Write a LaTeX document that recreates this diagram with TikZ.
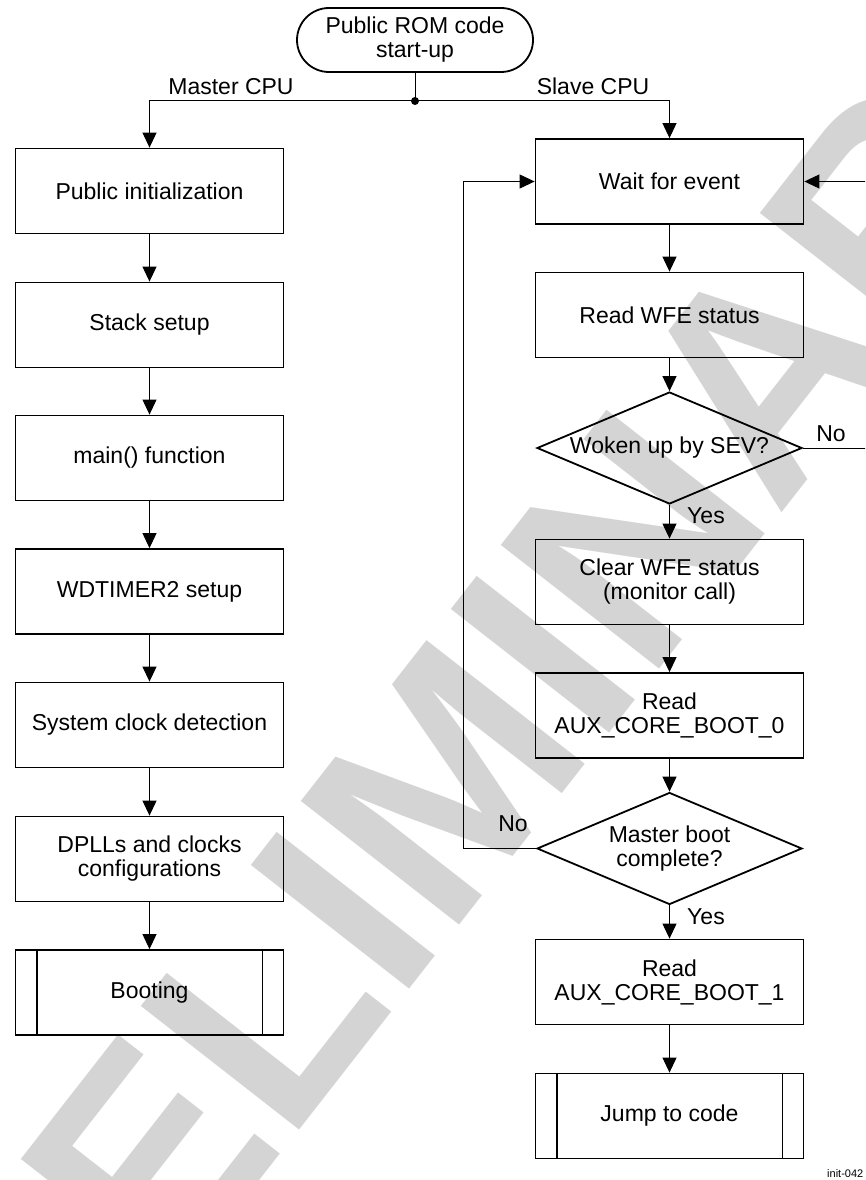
\documentclass[tikz,border=0pt]{standalone}
\usepackage{fontspec}
\setmainfont{Liberation Sans}
\usetikzlibrary{arrows.meta,shapes.geometric,shapes.misc}
\definecolor{wmark}{gray}{0.83}
\begin{document}
\begin{tikzpicture}[x=1pt,y=-1pt,
  txt/.style={font=\fontsize{23}{24}\selectfont, inner sep=0pt, align=center},
  proc/.style={txt, draw, line width=1.8pt, minimum width=268pt, minimum height=85pt},
  sub/.style={proc},
  term/.style={txt, draw, line width=1.8pt, rounded rectangle, minimum width=236pt, minimum height=64pt},
  dia/.style={draw, line width=1.8pt, diamond, inner sep=0pt, minimum width=265pt, minimum height=112pt},
  conn/.style={line width=1pt},
  arr/.style={conn, -{Triangle[width=14pt,length=15pt]}},
  lbl/.style={txt}
]
\path[use as bounding box, clip] (0,0) rectangle (865,1180);

% watermark
\node[rotate=52, inner sep=0pt, text=wmark, font=\fontsize{292}{292}\selectfont\bfseries] (wm) at (455,768) {PRELIMINARY};

% start
\node[term] (start) at (415,40) {Public ROM code\\start-up};
\node[circle, fill, inner sep=0pt, minimum size=8pt] (split) at (415,101) {};

% master column
\node[proc] (m1) at (149.5,191) {Public initialization};
\node[proc] (m2) at (149.5,325) {Stack setup};
\node[proc] (m3) at (149.5,458) {main() function};
\node[proc] (m4) at (149.5,591.5) {WDTIMER2 setup};
\node[proc] (m5) at (149.5,725) {System clock detection};
\node[proc] (m6) at (149.5,859) {DPLLs and clocks\\configurations};
\node[sub] (m7) at (149.5,992.5) {Booting};
\draw[line width=1.8pt] ([xshift=22pt]m7.north west) -- ([xshift=22pt]m7.south west);
\draw[line width=1.8pt] ([xshift=-22pt]m7.north east) -- ([xshift=-22pt]m7.south east);

% slave column
\node[proc] (s1) at (669.5,181.5) {Wait for event};
\node[proc] (s2) at (669.5,315) {Read WFE status};
\node[dia] (d1) at (669.5,448) {};
\node[txt] (d1t) at (d1) {Woken up by SEV?};
\node[proc] (s3) at (669.5,582) {Clear WFE status\\(monitor call)};
\node[proc] (s4) at (669.5,715.5) {Read\\AUX\_CORE\_BOOT\_0};
\node[dia] (d2) at (669.5,848.5) {};
\node[txt] (d2t) at (d2) {Master boot\\complete?};
\node[proc] (s5) at (669.5,982) {Read\\AUX\_CORE\_BOOT\_1};
\node[sub] (s6) at (669.5,1116) {Jump to code};
\draw[line width=1.8pt] ([xshift=22pt]s6.north west) -- ([xshift=22pt]s6.south west);
\draw[line width=1.8pt] ([xshift=-22pt]s6.north east) -- ([xshift=-22pt]s6.south east);

% connectors
\draw[conn] (start.south) -- (split.center);
\draw[arr] (split.center) -| (m1.north);
\draw[arr] (split.center) -| (s1.north);
\draw[arr] (m1) -- (m2);
\draw[arr] (m2) -- (m3);
\draw[arr] (m3) -- (m4);
\draw[arr] (m4) -- (m5);
\draw[arr] (m5) -- (m6);
\draw[arr] (m6) -- (m7);
\draw[arr] (s1) -- (s2);
\draw[arr] (s2) -- (d1.north);
\draw[arr] (d1.south) -- (s3);
\draw[arr] (s3) -- (s4);
\draw[arr] (s4) -- (d2.north);
\draw[arr] (d2.south) -- (s5);
\draw[arr] (s5) -- (s6);
\coordinate (lx) at (463,0);
\coordinate (rx) at (885,0);
\draw[arr] (d2.west) -| (lx |- s1.west) -- (s1.west);
\draw[arr] (d1.east) -| (rx |- s1.east) -- (s1.east);

% labels
\node[lbl] (lmaster) at (231,87) {Master CPU};
\node[lbl] (lslave) at (593,86) {Slave CPU};
\node[lbl] (lno1) at (831,434) {No};
\node[lbl] (lyes1) at (706,516) {Yes};
\node[lbl] (lno2) at (513,824) {No};
\node[lbl] (lyes2) at (706,917) {Yes};
\node[anchor=west, inner sep=0pt, font=\fontsize{11}{11}\selectfont] (fig) at (827,1174) {init-042};
\end{tikzpicture}
\end{document}
